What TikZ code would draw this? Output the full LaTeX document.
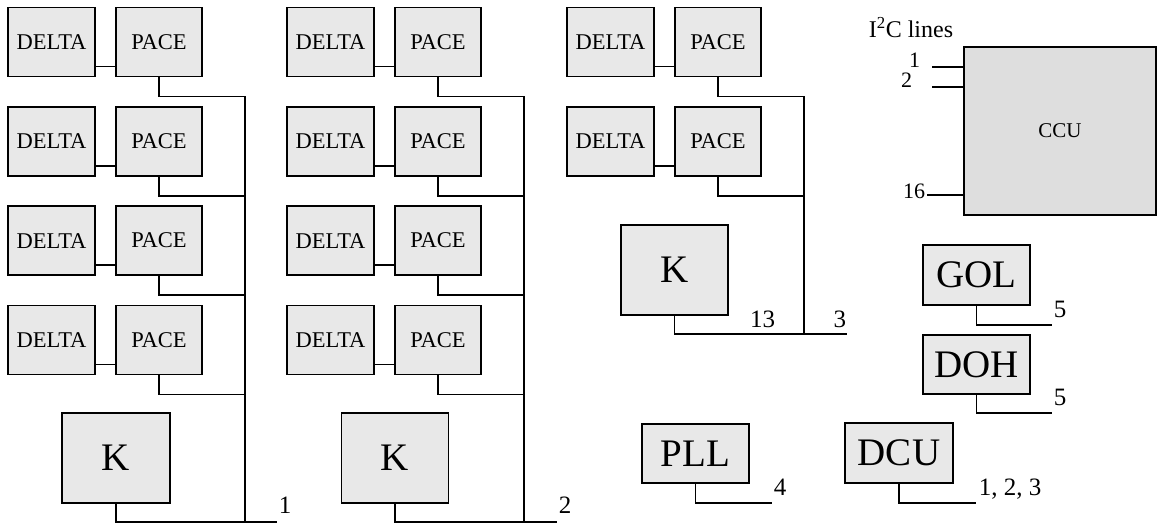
\documentclass[tikz,border=0pt]{standalone}
\usepackage{fontspec}
\setmainfont{Liberation Serif}
\definecolor{boxfill}{HTML}{E8E8E8}
\definecolor{ccufill}{HTML}{DEDEDE}
\begin{document}
\begin{tikzpicture}[x=1pt,y=-1pt, line width=1.8pt,
  blk/.style={draw, fill=boxfill, rectangle, inner sep=0pt, outer sep=0pt},
  smallbox/.style={blk, minimum height=69pt, font=\fontsize{22.5}{24}\selectfont},
  bigbox/.style={blk, font=\fontsize{39}{42}\selectfont},
  lbl/.style={inner sep=0pt, font=\fontsize{25}{27}\selectfont},
  ilbl/.style={inner sep=0pt, font=\fontsize{22}{24}\selectfont}]
\useasboundingbox (0,0) rectangle (1157,524);

% DELTA / PACE columns
\foreach \c/\dx/\nr in {1/0/4, 2/279/4, 3/559/2} {
  \foreach \r in {1,...,\nr} {
    \pgfmathsetmacro\yc{42+99.3*(\r-1)}
    \node[smallbox, minimum width=87pt] (d\c\r) at (51.5+\dx, \yc) {DELTA};
    \node[smallbox, minimum width=86pt] (p\c\r) at (159+\dx, \yc) {PACE};
    \draw ([yshift=10pt]d\c\r.south east) -- ([yshift=10pt]p\c\r.south west);
    \coordinate (j\c\r) at (245+\dx, \yc+54.5);
    \draw (p\c\r.south) |- (j\c\r);
  }
}

% buses
\coordinate (bb1) at (245,522);
\coordinate (bb2) at (524,522);
\coordinate (bb3) at (804,334);
\draw (j11) -- (bb1);
\draw (j21) -- (bb2);
\draw (j31) -- (bb3);

% K boxes
\node[bigbox, minimum width=108pt, minimum height=90pt] (k1) at (116,458) {K};
\node[bigbox, minimum width=107pt, minimum height=90pt] (k2) at (395,458) {K};
\node[bigbox, minimum width=107pt, minimum height=90pt] (k3) at (674.5,270) {K};
\coordinate (e1) at (277,522);
\coordinate (e2) at (557,522);
\coordinate (e3) at (847,334);
\draw (k1.south) |- (e1);
\draw (k2.south) |- (e2);
\draw (k3.south) |- (e3);
\node[lbl, anchor=base west] (l1) at ([xshift=1pt,yshift=9pt]e1) {1};
\node[lbl, anchor=base west] (l2) at ([xshift=1pt,yshift=9pt]e2) {2};
\node[lbl, anchor=base east] (l13) at (776,327) {13};
\node[lbl, anchor=base east] (l3) at ([yshift=7pt]e3) {3};

% CCU
\node[blk, fill=ccufill, minimum width=192pt, minimum height=168pt,
  font=\fontsize{21}{23}\selectfont] (ccu) at (1060,131) {CCU};
\coordinate (i1) at (932,67);
\coordinate (i2) at (932,87);
\coordinate (i16) at (927,195);
\draw (i1) -- (i1 -| ccu.west);
\draw (i2) -- (i2 -| ccu.west);
\draw (i16) -- (i16 -| ccu.west);
\node[ilbl, anchor=base east] (n1) at (921,68) {1};
\node[ilbl, anchor=base east] (n2) at (913,88) {2};
\node[ilbl, anchor=base east] (n16) at (926,198) {16};
\node[inner sep=0pt, anchor=base west, font=\fontsize{24}{26}\selectfont] (i2c) at (868,38) {I\textsuperscript{2}C lines};

% GOL, DOH, DCU, PLL
\node[bigbox, minimum width=107pt, minimum height=60pt] (gol) at (976.5,275) {GOL};
\node[bigbox, minimum width=107pt, minimum height=59pt] (doh) at (976.5,364.5) {DOH};
\node[bigbox, minimum width=108pt, minimum height=60pt] (dcu) at (899,453) {DCU};
\node[bigbox, minimum width=107pt, minimum height=59pt] (pll) at (695.5,453.5) {PLL};
\coordinate (eg) at (1052,325);
\coordinate (ed) at (1052,413);
\coordinate (ec) at (976,503);
\coordinate (ep) at (772,503);
\draw (gol.south) |- (eg);
\draw (doh.south) |- (ed);
\draw (dcu.south) |- (ec);
\draw (pll.south) |- (ep);
\node[lbl, anchor=base west] (lg) at ([xshift=1pt,yshift=8pt]eg) {5};
\node[lbl, anchor=base west] (ld) at ([xshift=1pt,yshift=8pt]ed) {5};
\node[lbl, anchor=base west] (lc) at ([xshift=2pt,yshift=8pt]ec) {1, 2, 3};
\node[lbl, anchor=base west] (lp) at ([xshift=1pt,yshift=8pt]ep) {4};
\end{tikzpicture}
\end{document}
